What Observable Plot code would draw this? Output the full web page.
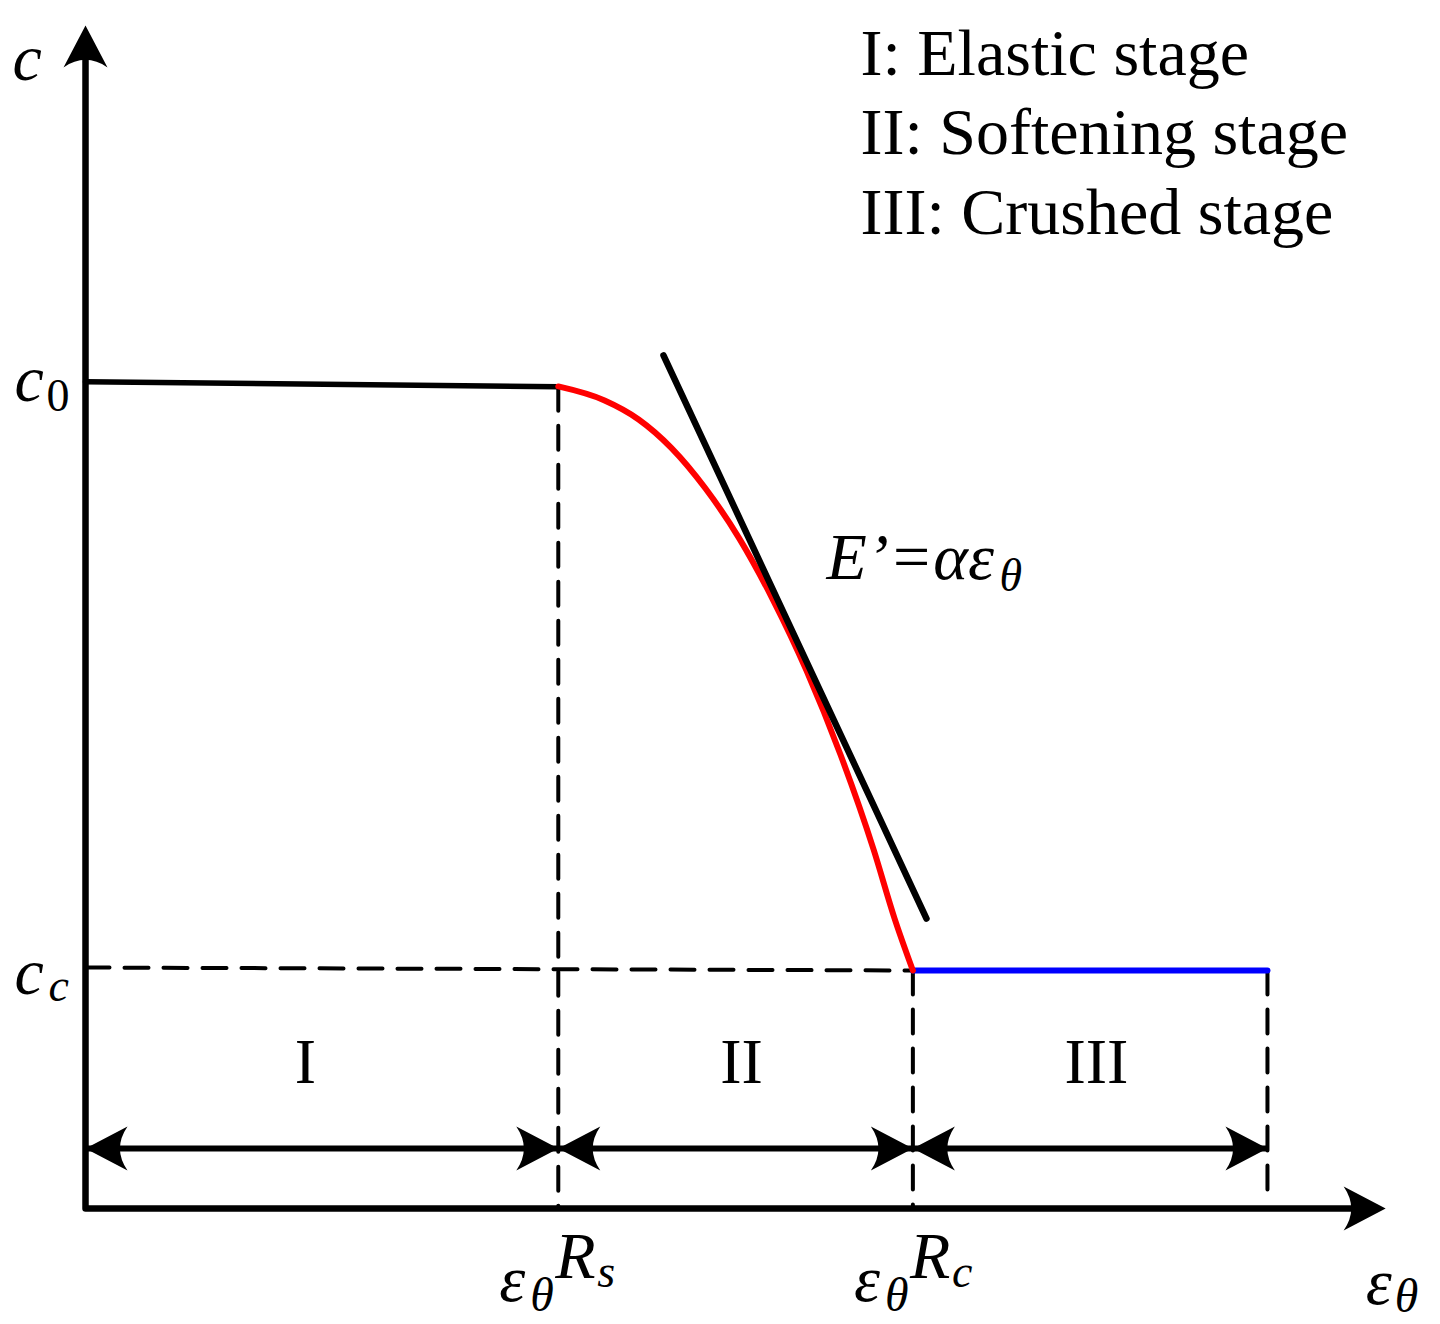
<!DOCTYPE html>
<html>
<head>
<meta charset="utf-8">
<script src="https://cdn.jsdelivr.net/npm/d3@7"></script>
<script src="https://cdn.jsdelivr.net/npm/@observablehq/plot@0.6"></script>
<style>
  html, body { margin: 0; padding: 0; background: #fff; }
  #chart svg { display: block; }
</style>
</head>
<body>
<div id="chart"></div>
<script>
// ---- key strain positions (normalized units) ----
const Rs = 1.0;          // softening onset  (ε_θ^Rs)
const Rc = 1.75;         // crushing onset   (ε_θ^Rc)
const Rend = 2.5;        // end of crushed stage
const xAxisTip = 2.75;
const yAxisTip = 1.434;

// ---- cohesion levels ----
const c0Left = 1.002, c0Right = 0.996;
const cc = 0.2885, ccLeft = 0.2921;

// ---- stage I : elastic ----
const elasticX = [0, Rs];
const elasticY = [c0Left, c0Right];

// ---- stage II : softening curve ----
const softeningX = [1.0, 1.098, 1.170, 1.239, 1.311, 1.383, 1.453, 1.525, 1.597, 1.667, 1.711, 1.75];
const softeningY = [0.9964, 0.9794, 0.9564, 0.922, 0.873, 0.812, 0.739, 0.652, 0.550, 0.435, 0.352, 0.2885];

// ---- stage III : crushed ----
const crushedX = [Rc, Rend];
const crushedY = [cc, cc];

// ---- tangent E' = α ε_θ ----
const tangentX = [1.2225, 1.7788];
const tangentY = [1.034, 0.3515];

// ---- stage span arrows ----
const stageNames = ["I", "II", "III"];
const stageStart = [0, Rs, Rc];
const stageEnd = [Rs, Rc, Rend];
const stageLabelX = [0.4653, 1.3875, 2.1383];
const stageLabelY = 0.1527;
const stageArrowY = 0.0727;

// ---- legend ----
const legendLines = ["I: Elastic stage", "II: Softening stage", "III: Crushed stage"];
const legendX = 1.6392;
const legendY = [1.3745, 1.2776, 1.1806];

// ---- build tables ----
const pts = (xs, ys) => xs.map((x, i) => ({x, y: ys[i]}));
const axisPath = [{x: 0, y: yAxisTip - 0.036}, {x: 0, y: 0}, {x: xAxisTip - 0.064, y: 0}];
const guides = [
  {x1: 0, y1: ccLeft, x2: Rc, y2: cc},
  {x1: Rs, y1: c0Right, x2: Rs, y2: 0},
  {x1: Rc, y1: cc, x2: Rc, y2: 0},
  {x1: Rend, y1: cc, x2: Rend, y2: 0.012}
];
const spans = stageNames.map((s, i) => ({x1: stageStart[i], x2: stageEnd[i], y: stageArrowY}));
const heads = [
  {x: 0, y: yAxisTip, r: 0},
  {x: xAxisTip, y: 0, r: 90},
  ...spans.flatMap(d => [{x: d.x1, y: d.y, r: -90}, {x: d.x2, y: d.y, r: 90}])
];
const stageLabels = stageNames.map((s, i) => ({s, x: stageLabelX[i], y: stageLabelY}));
const legend = legendLines.map((s, i) => ({s, x: legendX, y: legendY[i]}));

// filled arrowhead with slightly concave back; tip at (0,-l)
const headShape = {
  draw(ctx, l) {
    const w = 22;
    ctx.moveTo(0, -l);
    ctx.lineTo(w, 0);
    ctx.quadraticCurveTo(0, -l * 0.36, -w, 0);
    ctx.closePath();
  }
};

const serif = "'Liberation Serif', 'Times New Roman', Times, serif";
const T = (data, opts) => Plot.text(data, {fontFamily: serif, lineAnchor: "bottom", textAnchor: "start", fill: "black", ...opts});

// superscripted strain label ε_θ^{R_k} anchored on the x axis at a strain value
const strainLabel = (x, sub) => [
  T([{x, y: 0}], {x: "x", y: "y", text: () => "ε", fontSize: 66, fontStyle: "italic", dx: -59, dy: 92}),
  T([{x, y: 0}], {x: "x", y: "y", text: () => "θ", fontSize: 48, fontStyle: "italic", dx: -28, dy: 102}),
  T([{x, y: 0}], {x: "x", y: "y", text: () => "R", fontSize: 66, fontStyle: "italic", dx: -3, dy: 69}),
  T([{x, y: 0}], {x: "x", y: "y", text: () => sub, fontSize: 46, fontStyle: "italic", dx: 39, dy: 78})
];

const chart = Plot.plot({
  width: 1440,
  height: 1324,
  margin: 0,
  x: {domain: [-0.1798, 2.866], axis: null},
  y: {domain: [-0.1406, 1.4642], axis: null},
  style: {background: "white", overflow: "visible"},
  marks: [
    // dashed guides
    Plot.link(guides, {x1: "x1", y1: "y1", x2: "x2", y2: "y2", stroke: "black", strokeWidth: 4, strokeDasharray: "24,15", strokeLinecap: "round"}),
    // axes
    Plot.line(axisPath, {x: "x", y: "y", stroke: "black", strokeWidth: 6.5, strokeLinejoin: "round", curve: "linear"}),
    // stage span arrows
    Plot.link(spans, {x1: "x1", x2: "x2", y1: "y", y2: "y", stroke: "black", strokeWidth: 6}),
    // crushed stage
    Plot.line(pts(crushedX, crushedY), {x: "x", y: "y", stroke: "#0000ff", strokeWidth: 6}),
    // elastic stage
    Plot.line(pts(elasticX, elasticY), {x: "x", y: "y", stroke: "black", strokeWidth: 5.5}),
    // softening stage
    Plot.line(pts(softeningX, softeningY), {x: "x", y: "y", stroke: "#ff0000", strokeWidth: 6, curve: "monotone-x"}),
    // tangent
    Plot.line(pts(tangentX, tangentY), {x: "x", y: "y", stroke: "black", strokeWidth: 6.5, strokeLinecap: "round"}),
    // arrowheads
    Plot.vector(heads, {x: "x", y: "y", rotate: "r", length: 42, anchor: "end", shape: headShape, fill: "black", stroke: "none"}),
    // stage labels
    T(stageLabels, {x: "x", y: "y", text: "s", fontSize: 64, textAnchor: "middle"}),
    // legend
    T(legend, {x: "x", y: "y", text: "s", fontSize: 66}),
    // y axis label c
    T([{x: 0, y: yAxisTip}], {x: "x", y: "y", text: () => "c", fontSize: 66, fontStyle: "italic", dx: -73, dy: 55}),
    // c0
    T([{x: 0, y: c0Left}], {x: "x", y: "y", text: () => "c", fontSize: 66, fontStyle: "italic", dx: -71, dy: 19}),
    T([{x: 0, y: c0Left}], {x: "x", y: "y", text: () => "0", fontSize: 46, dx: -39, dy: 29}),
    // cc
    T([{x: 0, y: ccLeft}], {x: "x", y: "y", text: () => "c", fontSize: 66, fontStyle: "italic", dx: -71, dy: 26}),
    T([{x: 0, y: ccLeft}], {x: "x", y: "y", text: () => "c", fontSize: 46, fontStyle: "italic", dx: -37, dy: 33}),
    // ε_θ^Rs and ε_θ^Rc
    ...strainLabel(Rs, "s"),
    ...strainLabel(Rc, "c"),
    // x axis label ε_θ
    T([{x: xAxisTip, y: 0}], {x: "x", y: "y", text: () => "ε", fontSize: 66, fontStyle: "italic", dx: -20, dy: 95}),
    T([{x: xAxisTip, y: 0}], {x: "x", y: "y", text: () => "θ", fontSize: 48, fontStyle: "italic", dx: 9, dy: 103}),
    // E' = α ε_θ
    T([{x: 1.5673, y: 0.7636}], {x: "x", y: "y", text: () => "E’=αε", fontSize: 66, fontStyle: "italic"}),
    T([{x: 1.933, y: 0.749}], {x: "x", y: "y", text: () => "θ", fontSize: 46, fontStyle: "italic"})
  ]
});
document.getElementById("chart").append(chart);
</script>
</body>
</html>
